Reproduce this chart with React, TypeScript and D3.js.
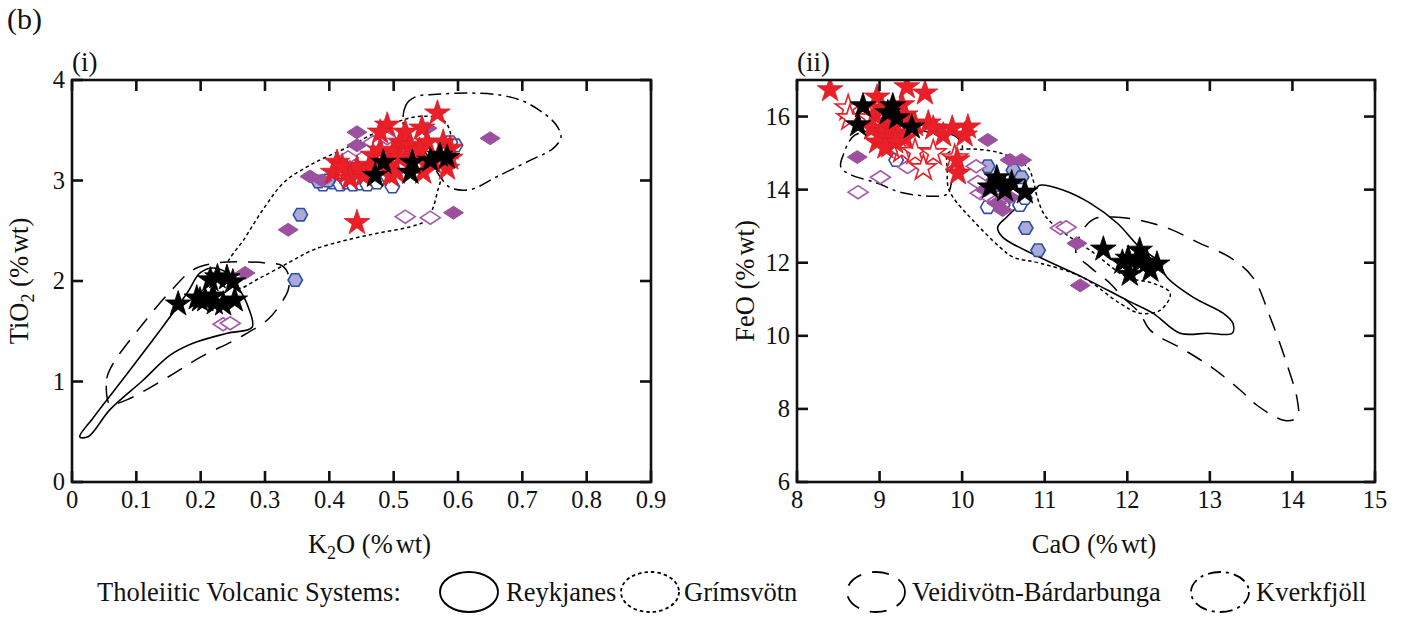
import React from "react";
import * as d3 from "d3";

// ---------- tick values ----------
const k2oTicks = [0, 0.1, 0.2, 0.3, 0.4, 0.5, 0.6, 0.7, 0.8, 0.9];
const tio2Ticks = [0, 1, 2, 3, 4];
const caoTicks = [8, 9, 10, 11, 12, 13, 14, 15];
const feoTicks = [6, 8, 10, 12, 14, 16];

// ---------- panel (i): K2O vs TiO2 ----------
const iBlackStars = [
  [0.165, 1.77], [0.194, 1.83], [0.207, 1.81], [0.219, 1.85], [0.235, 1.77], [0.253, 1.81],
  [0.226, 2.04], [0.241, 2.03], [0.25, 1.99], [0.215, 2.01], [0.199, 1.81], [0.222, 1.78],
  [0.471, 3.05], [0.484, 3.18], [0.529, 3.18], [0.526, 3.08], [0.557, 3.2], [0.572, 3.25], [0.583, 3.23],
];
const iRedStars = [
  [0.412, 3.18], [0.406, 3.08], [0.428, 3.08], [0.443, 3.12], [0.463, 3.15], [0.49, 3.55], [0.479, 3.48],
  [0.518, 3.48], [0.544, 3.52], [0.568, 3.67], [0.51, 3.38], [0.526, 3.35], [0.552, 3.38], [0.577, 3.38],
  [0.588, 3.32], [0.588, 3.22], [0.561, 3.18], [0.499, 3.28], [0.51, 3.22], [0.49, 3.15], [0.468, 3.25],
  [0.453, 3.05], [0.432, 3.02], [0.495, 3.05], [0.546, 3.08], [0.583, 3.12], [0.505, 3.08], [0.443, 2.58],
  [0.533, 3.25], [0.479, 3.3], [0.42, 3.14], [0.54, 3.3],
];
const iPurpleFilled = [
  [0.443, 3.48], [0.443, 3.35], [0.37, 3.04], [0.389, 3.0], [0.65, 3.42], [0.593, 2.68],
  [0.336, 2.51], [0.269, 2.08], [0.552, 3.52],
];
const iPurpleOpen = [
  [0.518, 2.64], [0.557, 2.63], [0.235, 1.57], [0.246, 1.58], [0.49, 3.42], [0.468, 3.38],
  [0.451, 3.22], [0.429, 3.23], [0.448, 3.07], [0.432, 3.13],
];
const iBlueFilled = [[0.355, 2.66], [0.347, 2.01], [0.383, 2.99], [0.398, 3.0]];
const iBlueOpen = [
  [0.39, 2.96], [0.406, 2.98], [0.417, 2.96], [0.428, 2.98], [0.437, 2.96], [0.448, 2.97],
  [0.459, 2.96], [0.474, 2.98], [0.498, 2.94], [0.596, 3.35], [0.588, 3.38],
];

const iReykjanes = [
  [0.012, 0.45], [0.033, 0.64], [0.086, 1.08], [0.137, 1.51], [0.179, 1.88], [0.199, 2.08], [0.219, 2.13],
  [0.241, 2.08], [0.261, 1.91], [0.274, 1.74], [0.28, 1.54], [0.241, 1.48], [0.188, 1.38], [0.152, 1.26],
  [0.11, 1.01], [0.059, 0.72], [0.025, 0.45],
];
const iGrimsvotn = [
  [0.257, 1.93], [0.24, 2.13], [0.269, 2.43], [0.3, 2.74], [0.331, 2.99], [0.375, 3.17], [0.428, 3.33],
  [0.479, 3.5], [0.518, 3.61], [0.549, 3.64], [0.577, 3.6], [0.588, 3.48], [0.586, 3.3], [0.579, 3.12],
  [0.569, 2.91], [0.56, 2.71], [0.547, 2.59], [0.526, 2.54], [0.479, 2.48], [0.428, 2.41], [0.375, 2.31],
  [0.339, 2.19], [0.292, 2.03],
];
const iVeidivotn = [
  [0.056, 0.8], [0.054, 1.03], [0.064, 1.18], [0.106, 1.54], [0.152, 1.89], [0.188, 2.11], [0.226, 2.18],
  [0.272, 2.19], [0.3, 2.18], [0.327, 2.15], [0.337, 2.05], [0.336, 1.91], [0.325, 1.78], [0.305, 1.62],
  [0.261, 1.44], [0.199, 1.24], [0.148, 1.04], [0.086, 0.82], [0.059, 0.77],
];
const iKverkfjoll = [
  [0.516, 3.53], [0.519, 3.75], [0.533, 3.83], [0.572, 3.86], [0.619, 3.87], [0.666, 3.85], [0.701, 3.79],
  [0.733, 3.67], [0.753, 3.55], [0.76, 3.43], [0.748, 3.32], [0.712, 3.2], [0.661, 3.04], [0.619, 2.91],
  [0.588, 2.93], [0.572, 3.04], [0.549, 3.28],
];

// ---------- panel (ii): CaO vs FeO ----------
const iiBlackStars = [
  [8.8, 16.29], [8.74, 15.77], [9.16, 16.29], [9.21, 15.96], [9.39, 15.71], [9.1, 16.1],
  [10.42, 14.32], [10.34, 14.07], [10.6, 14.18], [10.76, 13.93], [10.52, 13.99],
  [11.71, 12.37], [11.94, 12.01], [12.15, 12.34], [12.03, 11.68], [12.24, 12.01], [12.36, 11.96],
  [12.28, 11.79], [12.15, 12.01], [12.01, 12.12],
];
const iiRedStars = [
  [8.4, 16.73], [8.97, 16.53], [9.33, 16.81], [9.55, 16.64], [8.94, 16.04], [9.03, 16.23], [9.27, 16.32],
  [9.31, 16.04], [9.07, 15.85], [8.91, 15.68], [9.03, 15.58], [9.15, 15.68], [9.22, 15.55], [9.1, 15.44],
  [9.31, 15.41], [9.43, 15.77], [9.59, 15.82], [9.65, 15.68], [9.77, 15.49], [9.88, 15.68], [10.07, 15.71],
  [10.03, 15.49], [9.95, 14.45], [9.94, 14.81], [8.97, 15.3], [9.19, 15.3], [9.07, 15.16],
];
const iiRedOpen = [
  [8.62, 16.23], [8.64, 15.96], [9.27, 15.08], [9.43, 15.03], [9.65, 15.0], [9.53, 14.59], [9.91, 14.86],
  [8.88, 15.96], [9.01, 15.49], [9.13, 15.22],
];
const iiPurpleFilled = [
  [8.73, 14.89], [10.31, 15.36], [10.58, 14.81], [10.72, 14.81], [11.39, 12.53], [11.43, 11.38],
  [10.49, 13.44], [10.42, 13.63], [10.58, 13.79], [10.28, 13.99], [9.67, 15.71],
];
const iiPurpleOpen = [
  [8.74, 13.93], [9.01, 14.34], [9.34, 14.62], [10.17, 14.64], [10.19, 14.21], [10.22, 13.9],
  [10.34, 13.79], [11.19, 12.95], [11.26, 12.97], [10.43, 13.71],
];
const iiBlueFilled = [
  [10.31, 14.64], [10.62, 14.53], [10.72, 14.34], [10.37, 14.21], [10.77, 12.95], [10.92, 12.34], [10.46, 14.12],
];
const iiBlueOpen = [
  [9.2, 14.81], [10.31, 13.52], [10.49, 13.58], [10.7, 13.58], [10.76, 13.77], [10.4, 13.82],
];

const iiReykjanes = [
  [10.94, 14.12], [11.22, 13.99], [11.55, 13.63], [11.88, 13.08], [12.15, 12.42], [12.36, 12.07],
  [12.48, 11.6], [12.8, 11.05], [13.16, 10.62], [13.28, 10.34], [13.27, 10.07], [12.97, 10.07],
  [12.64, 10.07], [12.31, 10.62], [12.0, 10.97], [11.46, 11.6], [10.94, 12.15], [10.49, 12.7],
  [10.43, 12.97], [10.54, 13.25], [10.79, 13.79], [10.91, 14.07],
];
const iiGrimsvotn = [
  [9.83, 15.0], [10.06, 15.11], [10.46, 15.0], [10.79, 14.62], [10.86, 14.26], [10.91, 13.79], [11.0, 13.3],
  [11.19, 12.89], [11.55, 12.34], [12.0, 11.6], [12.31, 11.44], [12.52, 11.16], [12.4, 10.7], [12.15, 10.62],
  [11.91, 10.89], [11.46, 11.6], [10.94, 11.99], [10.62, 12.15], [10.46, 12.42], [10.13, 13.16],
  [9.89, 13.79], [9.83, 14.07], [9.82, 14.53],
];
const iiVeidivotn = [
  [11.6, 13.2], [11.83, 13.25], [12.15, 13.16], [12.52, 12.92], [12.88, 12.53], [13.24, 12.15],
  [13.52, 11.6], [13.73, 10.51], [13.93, 9.25], [14.06, 8.23], [14.06, 7.77], [13.91, 7.68], [13.57, 8.1],
  [13.37, 8.51], [13.04, 9.11], [12.7, 9.6], [12.28, 10.15], [12.15, 10.62], [11.95, 11.05], [11.79, 11.44],
  [11.55, 11.88], [11.38, 12.26], [11.45, 12.85],
];
const iiKverkfjoll = [
  [8.7, 15.49], [8.56, 14.95], [8.53, 14.62], [8.64, 14.42], [8.97, 14.18], [9.25, 13.93], [9.65, 13.82],
  [9.82, 13.88], [9.88, 14.26], [9.97, 14.81], [10.0, 15.22], [9.91, 15.47], [9.61, 15.58], [9.13, 15.63],
];

const legendNames = ["Reykjanes", "Grímsvötn", "Veidivötn-Bárdarbunga", "Kverkfjöll"];

// ---------- styles ----------
const FONT = "'Liberation Serif', 'Times New Roman', serif";
const RED = "#ea1f28";
const PURPLE = "#9d4fa0";
const PURPLE_OPEN = "#a559ab";
const BLUE = "#2f4fa5";
const BLUE_FILL = "#a9abd9";

const lineStyles: Record<string, { dash?: string; w: number }> = {
  Reykjanes: { w: 1.6 },
  Grimsvotn: { dash: "3.5,3", w: 1.5 },
  Veidivotn: { dash: "17,11", w: 1.5 },
  Kverkfjoll: { dash: "13,5,3,5", w: 1.5 },
};

const starPath = (R: number) => d3.symbol().type(d3.symbolStar).size((R * R) / 0.8908130915292852)() as string;
const diamondPath = (w: number, h: number) => {
  const p = d3.path();
  p.moveTo(-w / 2, 0);
  p.lineTo(0, -h / 2);
  p.lineTo(w / 2, 0);
  p.lineTo(0, h / 2);
  p.closePath();
  return p.toString();
};
const hexPath = (r: number) => {
  const p = d3.path();
  for (let i = 0; i < 6; i++) {
    const a = (Math.PI / 3) * i;
    const x = r * Math.cos(a), y = r * Math.sin(a);
    if (i === 0) p.moveTo(x, y);
    else p.lineTo(x, y);
  }
  p.closePath();
  return p.toString();
};

const STAR = starPath(13.5);
const DIAMOND = diamondPath(20, 13);
const HEX = hexPath(7.2);

type Pt = number[];
type Series = { pts: Pt[]; d: string; fill: string; stroke: string; sw: number };

function Panel(props: {
  x: d3.ScaleLinear<number, number>;
  y: d3.ScaleLinear<number, number>;
  xTicks: number[];
  yTicks: number[];
  xFmt: (v: number) => string;
  contours: { pts: Pt[]; style: string }[];
  series: Series[];
  label: string;
  xTitle: React.ReactNode;
  yTitle: React.ReactNode;
  yTitleOffset: number;
  clipId: string;
}) {
  const { x, y, xTicks, yTicks, xFmt, contours, series, label, xTitle, yTitle, yTitleOffset, clipId } = props;
  const [x0, x1] = x.range();
  const [y0, y1] = y.range(); // y0 bottom, y1 top
  const line = d3
    .line<Pt>()
    .x((d) => x(d[0]))
    .y((d) => y(d[1]))
    .curve(d3.curveCatmullRomClosed.alpha(0.5));
  const T = 11;
  return (
    <g>
      <defs>
        <clipPath id={clipId}>
          <rect x={x0} y={y1} width={x1 - x0} height={y0 - y1} />
        </clipPath>
      </defs>
      <g clipPath={`url(#${clipId})`}>
        {contours.map((c, i) => (
          <path
            key={i}
            d={line(c.pts) as string}
            fill="none"
            stroke="#000"
            strokeWidth={lineStyles[c.style].w}
            strokeDasharray={lineStyles[c.style].dash}
          />
        ))}
        {series.map((s, i) => (
          <g key={i}>
            {s.pts.map((p, j) => (
              <path
                key={j}
                d={s.d}
                transform={`translate(${x(p[0])},${y(p[1])})`}
                fill={s.fill}
                stroke={s.stroke}
                strokeWidth={s.sw}
                strokeLinejoin="miter"
              />
            ))}
          </g>
        ))}
      </g>
      <rect x={x0} y={y1} width={x1 - x0} height={y0 - y1} fill="none" stroke="#111" strokeWidth={2.6} />
      {xTicks.map((t) => (
        <g key={"x" + t}>
          <line x1={x(t)} x2={x(t)} y1={y0} y2={y0 - T} stroke="#111" strokeWidth={2.6} />
          <line x1={x(t)} x2={x(t)} y1={y1} y2={y1 + T} stroke="#111" strokeWidth={2.6} />
          <text x={x(t)} y={y0 + 26} textAnchor="middle" fontSize={24.5} fontFamily={FONT} fill="#111">
            {xFmt(t)}
          </text>
        </g>
      ))}
      {yTicks.map((t) => (
        <g key={"y" + t}>
          <line x1={x0} x2={x0 + T} y1={y(t)} y2={y(t)} stroke="#111" strokeWidth={2.6} />
          <line x1={x1} x2={x1 - T} y1={y(t)} y2={y(t)} stroke="#111" strokeWidth={2.6} />
          <text x={x0 - 7} y={y(t) + 8} textAnchor="end" fontSize={24.5} fontFamily={FONT} fill="#111">
            {t}
          </text>
        </g>
      ))}
      <text x={x0} y={y1 - 9} fontSize={27} fontFamily={FONT} fill="#111">
        {label}
      </text>
      <text x={(x0 + x1) / 2 + 8} y={y0 + 71} textAnchor="middle" fontSize={26.5} fontFamily={FONT} fill="#111">
        {xTitle}
      </text>
      <text
        transform={`translate(${x0 - yTitleOffset},${(y0 + y1) / 2}) rotate(-90)`}
        textAnchor="middle"
        fontSize={26.5}
        fontFamily={FONT}
        fill="#111"
      >
        {yTitle}
      </text>
    </g>
  );
}

const mkSeries = (
  ps: { blueOpen: Pt[]; blueFilled: Pt[]; purpleOpen: Pt[]; purpleFilled: Pt[]; redOpen: Pt[]; redFilled: Pt[]; black: Pt[] }
): Series[] => [
  { pts: ps.blueOpen, d: HEX, fill: "#fff", stroke: BLUE, sw: 1.6 },
  { pts: ps.blueFilled, d: HEX, fill: BLUE_FILL, stroke: BLUE, sw: 1.6 },
  { pts: ps.purpleOpen, d: DIAMOND, fill: "#fff", stroke: PURPLE_OPEN, sw: 1.6 },
  { pts: ps.purpleFilled, d: DIAMOND, fill: PURPLE, stroke: PURPLE, sw: 1 },
  { pts: ps.redOpen, d: STAR, fill: "#fff", stroke: RED, sw: 1.6 },
  { pts: ps.redFilled, d: STAR, fill: RED, stroke: "#d81c24", sw: 0.8 },
  { pts: ps.black, d: STAR, fill: "#000", stroke: "#000", sw: 0.8 },
];

export default function App() {
  const xL = d3.scaleLinear().domain([0, 0.9]).range([72, 651]);
  const yL = d3.scaleLinear().domain([0, 4]).range([482, 80]);
  const xR = d3.scaleLinear().domain([8, 15]).range([797, 1375]);
  const yR = d3.scaleLinear().domain([6, 17]).range([482, 80]);
  const fmtL = (v: number) => (v === 0 ? "0" : d3.format(".1f")(v));

  const seriesL = mkSeries({
    blueOpen: iBlueOpen, blueFilled: iBlueFilled, purpleOpen: iPurpleOpen, purpleFilled: iPurpleFilled,
    redOpen: [], redFilled: iRedStars, black: iBlackStars,
  });
  const seriesR = mkSeries({
    blueOpen: iiBlueOpen, blueFilled: iiBlueFilled, purpleOpen: iiPurpleOpen, purpleFilled: iiPurpleFilled,
    redOpen: iiRedOpen, redFilled: iiRedStars, black: iiBlackStars,
  });

  const legendItems = [
    { name: legendNames[0], style: "Reykjanes", cx: 469, tx: 506 },
    { name: legendNames[1], style: "Grimsvotn", cx: 650, tx: 684 },
    { name: legendNames[2], style: "Veidivotn", cx: 876, tx: 912 },
    { name: legendNames[3], style: "Kverkfjöll".length ? "Kverkfjoll" : "", cx: 1220, tx: 1256 },
  ];
  const ly = 592;

  return (
    <svg width={1404} height={617} style={{ display: "block", position: "absolute", left: 0, top: 0 }}>
      <rect width={1404} height={617} fill="#fff" />
      <text x={7} y={29} fontSize={30} fontFamily={FONT} fill="#111">(b)</text>
      <Panel
        x={xL}
        y={yL}
        xTicks={k2oTicks}
        yTicks={tio2Ticks}
        xFmt={fmtL}
        clipId="clipL"
        label="(i)"
        yTitleOffset={44}
        contours={[
          { pts: iReykjanes, style: "Reykjanes" },
          { pts: iGrimsvotn, style: "Grimsvotn" },
          { pts: iVeidivotn, style: "Veidivotn" },
          { pts: iKverkfjoll, style: "Kverkfjoll" },
        ]}
        series={seriesL}
        xTitle={<>K<tspan fontSize={18} dy={6}>2</tspan><tspan dy={-6}>O (%</tspan><tspan dx={3}>wt)</tspan></>}
        yTitle={<>TiO<tspan fontSize={18} dy={6}>2</tspan><tspan dy={-6}> (%</tspan><tspan dx={3}>wt)</tspan></>}
      />
      <Panel
        x={xR}
        y={yR}
        xTicks={caoTicks}
        yTicks={feoTicks}
        xFmt={(v) => String(v)}
        clipId="clipR"
        label="(ii)"
        yTitleOffset={43}
        contours={[
          { pts: iiReykjanes, style: "Reykjanes" },
          { pts: iiGrimsvotn, style: "Grimsvotn" },
          { pts: iiVeidivotn, style: "Veidivotn" },
          { pts: iiKverkfjoll, style: "Kverkfjoll" },
        ]}
        series={seriesR}
        xTitle={<>CaO (%<tspan dx={3}>wt)</tspan></>}
        yTitle={<>FeO (%<tspan dx={3}>wt)</tspan></>}
      />
      <text x={97} y={ly + 9} fontSize={26.5} fontFamily={FONT} fill="#111">Tholeiitic Volcanic Systems:</text>
      {legendItems.map((it) => (
        <g key={it.name}>
          <ellipse
            cx={it.cx}
            cy={ly}
            rx={29}
            ry={20}
            fill="none"
            stroke="#000"
            strokeWidth={lineStyles[it.style].w + 0.3}
            strokeDasharray={lineStyles[it.style].dash}
          />
          <text x={it.tx} y={ly + 9} fontSize={26.5} fontFamily={FONT} fill="#111">{it.name}</text>
        </g>
      ))}
    </svg>
  );
}
